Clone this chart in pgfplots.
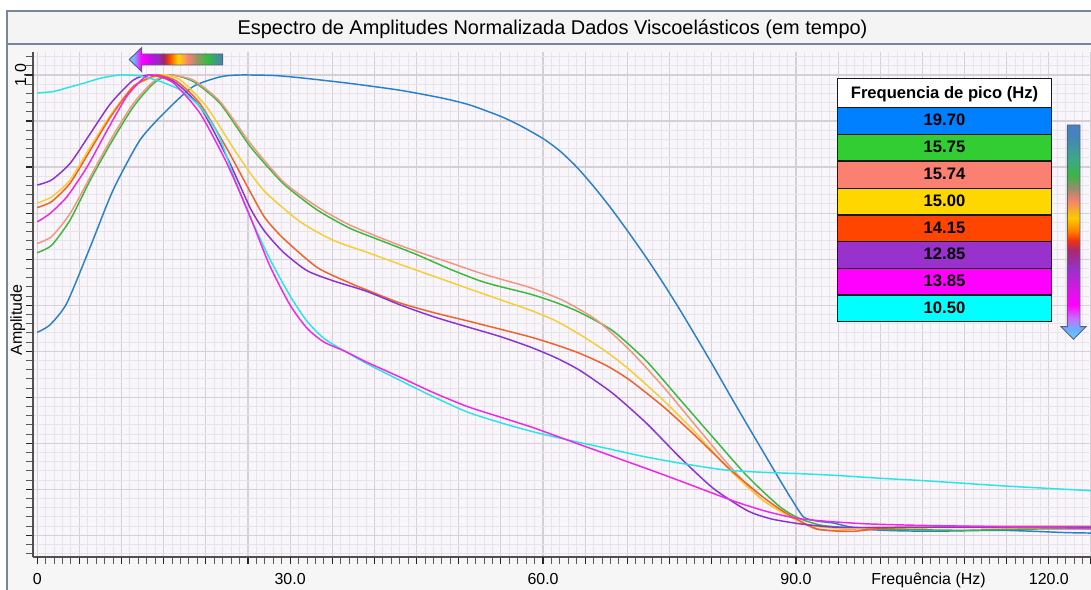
\documentclass[border=0pt]{standalone}
\usepackage{fontspec}
\setmainfont{Liberation Sans}
\usepackage{pgfplots}
\pgfplotsset{compat=1.18}

% frame and grid colours
\definecolor{panelbg}{RGB}{246,246,247}
\definecolor{titlebg}{RGB}{244,244,245}
\definecolor{plotbg}{RGB}{248,246,250}
\definecolor{gridminor}{RGB}{232,228,234}
\definecolor{gridmajor}{RGB}{212,208,214}
\definecolor{frameline}{RGB}{120,134,155}
\definecolor{axisgray}{RGB}{80,80,80}
\definecolor{arrowline}{RGB}{85,100,125}

% curve colours
\definecolor{cBlue}{RGB}{40,128,205}
\definecolor{cGreen}{RGB}{60,185,60}
\definecolor{cSalmon}{RGB}{240,150,130}
\definecolor{cGold}{RGB}{248,205,50}
\definecolor{cOrange}{RGB}{245,95,40}
\definecolor{cPurple}{RGB}{140,50,210}
\definecolor{cMagenta}{RGB}{240,40,230}
\definecolor{cCyan}{RGB}{40,230,230}

% table fills
\definecolor{lBlue}{RGB}{0,128,255}
\definecolor{lGreen}{RGB}{50,205,50}
\definecolor{lSalmon}{RGB}{250,128,114}
\definecolor{lGold}{RGB}{255,215,0}
\definecolor{lOrange}{RGB}{255,69,0}
\definecolor{lPurple}{RGB}{153,50,204}
\definecolor{lMagenta}{RGB}{255,0,255}
\definecolor{lCyan}{RGB}{0,255,255}

% rainbow gradients for the two arrows
\pgfdeclarehorizontalshading{hrainbow}{100bp}{%
  rgb(0bp)=(0.431,0.745,1); rgb(25bp)=(0.431,0.745,1); rgb(27.1bp)=(0.431,0.745,1);
  rgb(31.4bp)=(1,0,1); rgb(36.2bp)=(0.784,0.039,0.902); rgb(40.4bp)=(0.588,0.157,0.784);
  rgb(43.6bp)=(0.627,0.157,0.353); rgb(46.3bp)=(1,0.271,0); rgb(51.1bp)=(1,0.843,0);
  rgb(56.4bp)=(0.98,0.502,0.447); rgb(61.2bp)=(0.588,0.588,0.392); rgb(67bp)=(0.196,0.745,0.235);
  rgb(74.5bp)=(0.275,0.51,0.706); rgb(100bp)=(0.275,0.51,0.706)}
\pgfdeclareverticalshading{vrainbow}{100bp}{%
  rgb(0bp)=(0.47,0.784,1); rgb(25bp)=(0.47,0.784,1); rgb(27.1bp)=(0.392,0.706,1);
  rgb(29.9bp)=(0.784,0.431,1); rgb(33bp)=(1,0,1); rgb(36.4bp)=(0.863,0.078,0.902);
  rgb(41.6bp)=(0.588,0.196,0.784); rgb(45.8bp)=(0.667,0.157,0.431); rgb(48.1bp)=(0.941,0.196,0.078);
  rgb(50bp)=(1,0.471,0); rgb(53.3bp)=(0.98,0.804,0); rgb(57.5bp)=(0.941,0.51,0.431);
  rgb(60.3bp)=(0.588,0.549,0.431); rgb(63.3bp)=(0.235,0.706,0.275); rgb(66.8bp)=(0.235,0.667,0.51);
  rgb(72.7bp)=(0.275,0.51,0.745); rgb(100bp)=(0.275,0.51,0.745)}

% normalised amplitude spectra, one table per record
\pgfplotstableread{
f A
0 0.441
1.5 0.457
3.5 0.504
6.3 0.627
9.0 0.750
12.2 0.859
15.4 0.924
18.5 0.975
21.7 0.996
24.0 1.000
28.0 0.999
31.2 0.994
37.0 0.982
43.0 0.967
48.0 0.950
51.3 0.935
55.0 0.910
57.3 0.890
60.0 0.862
62.0 0.835
64.0 0.800
66.0 0.758
68.0 0.712
70.0 0.662
72.0 0.610
74.0 0.555
76.0 0.497
78.0 0.436
80.0 0.374
82.0 0.310
84.0 0.247
86.0 0.185
88.0 0.123
89.5 0.078
90.9 0.040
92.5 0.031
94.4 0.027
96.0 0.020
98.4 0.013
102.0 0.010
106.3 0.009
110.0 0.010
114.2 0.011
118.0 0.009
122.0 0.006
125.0 0.005
}\specA

\pgfplotstableread{
f A
0 0.614
1.7 0.630
3.9 0.685
6.3 0.772
8.7 0.851
11.4 0.931
13.8 0.982
15.8 1.000
18.5 0.986
21.7 0.938
25.3 0.844
29.2 0.764
33.2 0.707
37.1 0.667
41.1 0.638
45.0 0.610
49.0 0.578
52.5 0.553
55.0 0.540
58.5 0.524
61.5 0.506
64.4 0.484
68.3 0.444
72.3 0.378
76.2 0.296
80.2 0.212
84.2 0.129
88.1 0.062
90.5 0.036
93.0 0.022
96.0 0.017
100.0 0.013
105.0 0.012
110.0 0.011
115.0 0.013
120.0 0.014
125.0 0.014
}\specB

\pgfplotstableread{
f A
0 0.634
1.7 0.649
3.9 0.699
6.3 0.779
8.7 0.859
11.4 0.938
13.8 0.986
15.6 1.000
18.5 0.989
21.7 0.942
25.3 0.851
29.2 0.768
33.2 0.714
37.1 0.674
43.0 0.630
49.0 0.592
52.5 0.570
54.9 0.557
58.5 0.538
62.4 0.510
66.4 0.467
70.3 0.402
74.3 0.322
78.2 0.236
82.2 0.149
86.1 0.076
90.5 0.030
92.5 0.013
95.0 0.011
98.0 0.015
102.0 0.018
110.0 0.020
125.0 0.020
}\specC

\pgfplotstableread{
f A
0 0.722
1.7 0.735
3.9 0.772
6.3 0.844
8.7 0.913
11.4 0.975
14.2 0.998
15.0 1.000
17.0 0.989
20.1 0.931
23.3 0.840
25.3 0.786
27.2 0.743
31.2 0.681
35.1 0.641
39.1 0.615
43.0 0.589
47.0 0.563
51.0 0.537
54.9 0.512
58.5 0.489
61.5 0.466
64.4 0.436
67.5 0.399
70.3 0.359
74.3 0.293
78.2 0.221
82.2 0.141
86.1 0.076
90.5 0.029
93.0 0.018
96.0 0.015
100.0 0.018
110.0 0.018
125.0 0.016
}\specD

\pgfplotstableread{
f A
0 0.712
1.7 0.725
3.9 0.765
6.3 0.837
8.7 0.909
11.4 0.975
13.8 0.998
14.5 1.000
16.6 0.986
19.3 0.938
22.5 0.840
25.3 0.745
27.0 0.690
29.2 0.645
33.2 0.582
37.1 0.548
39.1 0.533
43.0 0.505
47.0 0.484
51.0 0.466
54.9 0.448
58.5 0.431
61.5 0.414
64.4 0.395
67.5 0.369
70.3 0.337
74.3 0.279
78.2 0.214
82.2 0.143
86.1 0.083
88.5 0.052
90.5 0.031
92.5 0.014
95.0 0.009
97.0 0.009
100.3 0.015
105.0 0.017
115.0 0.017
125.0 0.017
}\specE

\pgfplotstableread{
f A
0 0.761
1.7 0.772
3.9 0.808
6.3 0.873
8.7 0.938
11.4 0.989
13.4 1.000
16.2 0.986
19.3 0.931
22.5 0.822
25.3 0.710
27.0 0.660
29.2 0.615
32.0 0.575
35.1 0.553
39.1 0.530
43.0 0.501
47.0 0.475
51.0 0.453
54.9 0.432
58.5 0.409
61.5 0.386
64.4 0.358
68.3 0.308
72.3 0.243
76.2 0.170
80.2 0.102
84.2 0.054
87.0 0.036
90.5 0.025
94.4 0.018
100.0 0.017
110.0 0.018
125.0 0.018
}\specF

\pgfplotstableread{
f A
0 0.681
1.5 0.699
3.5 0.735
5.9 0.800
8.3 0.880
10.6 0.953
12.6 0.993
13.8 1.000
16.2 0.982
19.3 0.917
22.5 0.808
25.3 0.690
27.6 0.585
30.0 0.500
32.0 0.450
34.0 0.420
36.5 0.400
39.0 0.377
43.0 0.344
47.0 0.310
51.0 0.280
54.9 0.257
58.5 0.236
62.0 0.213
64.4 0.197
67.0 0.180
70.0 0.160
72.3 0.145
76.0 0.120
80.2 0.091
83.0 0.072
86.1 0.054
88.5 0.043
90.5 0.036
94.0 0.030
98.4 0.025
104.0 0.022
110.2 0.020
116.0 0.018
125.0 0.015
}\specG

\pgfplotstableread{
f A
0 0.961
1.9 0.964
3.5 0.972
5.5 0.982
7.5 0.993
9.8 1.000
12.2 0.998
14.6 0.986
17.0 0.967
19.3 0.931
21.5 0.870
23.3 0.780
25.3 0.690
27.6 0.600
30.0 0.520
32.0 0.465
34.0 0.428
36.3 0.402
39.1 0.373
43.0 0.337
47.0 0.301
51.0 0.268
54.9 0.245
58.0 0.229
60.4 0.218
64.0 0.203
68.3 0.186
72.0 0.171
76.2 0.157
80.0 0.146
82.2 0.141
86.0 0.137
90.5 0.134
95.0 0.130
100.0 0.124
105.0 0.119
110.0 0.113
115.0 0.107
120.0 0.102
125.0 0.097
}\specH

\begin{document}
\begin{tikzpicture}
\useasboundingbox (0,0) rectangle (818.25bp,442.5bp);
\fill[white] (0,0) rectangle (818.25bp,442.5bp);
\fill[panelbg] (5.25bp,-5bp) rectangle (830bp,434.25bp);
\fill[titlebg] (5.25bp,409.5bp) rectangle (830bp,434.25bp);
\draw[frameline, line width=0.9bp] (830bp,434.25bp) -- (5.25bp,434.25bp) -- (5.25bp,-5bp);
\draw[frameline, line width=0.9bp] (5.25bp,409.5bp) -- (830bp,409.5bp);
\node[anchor=base, font=\fontsize{15}{18}\selectfont, inner sep=0pt] at (414.4bp,416.25bp)
  {Espectro de Amplitudes Normalizada Dados Viscoelásticos (em tempo)};

\begin{axis}[
  at={(24.75bp,24.75bp)}, anchor=south west,
  scale only axis, width=793.5bp, height=378.75bp,
  xmin=-0.5, xmax=125, ymin=-0.047, ymax=1.05,
  axis lines=left, axis line style={-, draw=axisgray, line width=0.8bp},
  axis background/.style={fill=plotbg},
  xtick={0,5,...,125}, minor x tick num=4, xticklabels={},
  ytick={0,0.1,0.2,0.3,0.4,0.5,0.6,0.7,0.8,0.9,1.0},
  minor ytick={-0.04,-0.02,0.02,0.04,0.06,0.08,0.12,0.14,0.16,0.18,0.22,0.24,0.26,0.28,
    0.32,0.34,0.36,0.38,0.42,0.44,0.46,0.48,0.52,0.54,0.56,0.58,0.62,0.64,0.66,0.68,
    0.72,0.74,0.76,0.78,0.82,0.84,0.86,0.88,0.92,0.94,0.96,0.98,1.02,1.04},
  yticklabels={},
  extra x ticks={0,30,60,90,120}, extra x tick labels={0,30.0,60.0,90.0,120.0},
  extra x tick style={grid=none},
  extra y ticks={1}, extra y tick labels={1.0},
  extra y tick style={grid=none},
  grid=both,
  minor grid style={draw=gridminor, line width=0.7bp},
  major grid style={draw=gridmajor, line width=0.9bp},
  tick align=outside, major tick length=5.25bp, minor tick length=5bp,
  major tick style={draw=black!85, line width=0.9bp},
  minor tick style={draw=black!65, line width=0.7bp},
  tick label style={font=\fontsize{12}{14}\selectfont},
  xticklabel style={anchor=base, yshift=-15.5bp},
  yticklabel style={rotate=90, anchor=base},
  xlabel={Frequência (Hz)},
  xlabel style={at={(axis description cs:0.8464,-0.0535)}, anchor=base, font=\fontsize{12}{14}\selectfont},
  ylabel={Amplitude},
  ylabel style={at={(axis description cs:-0.0104,0.469)}, anchor=base, font=\fontsize{12}{14}\selectfont},
  every axis plot/.append style={line width=1.1bp, smooth, tension=0.4, no markers},
]
\addplot[cBlue] table[x=f, y=A] {\specA};
\addplot[cGreen] table[x=f, y=A] {\specB};
\addplot[cSalmon] table[x=f, y=A] {\specC};
\addplot[cGold] table[x=f, y=A] {\specD};
\addplot[cOrange] table[x=f, y=A] {\specE};
\addplot[cPurple] table[x=f, y=A] {\specF};
\addplot[cCyan] table[x=f, y=A] {\specH};
\addplot[cMagenta] table[x=f, y=A] {\specG};
\end{axis}

% peak-frequency table and gradient arrows, laid out in pixel units from the top-left corner
\begin{scope}[shift={(0bp,442.5bp)}, x=0.75bp, y=-0.75bp]
  \shade[shading=hrainbow] (129.3,59.5) -- (141.7,47.5) -- (141.7,54) -- (222.7,54)
    -- (222.7,65) -- (141.7,65) -- (141.7,71.7) -- cycle;
  \draw[arrowline, line width=0.7bp] (129.3,59.5) -- (141.7,47.5) -- (141.7,54) -- (222.7,54)
    -- (222.7,65) -- (141.7,65) -- (141.7,71.7) -- cycle;
  \shade[shading=vrainbow] (1067.3,125) -- (1080,125) -- (1080,326.7) -- (1086,326.7)
    -- (1073.5,339.3) -- (1061,326.7) -- (1067.3,326.7) -- cycle;
  \draw[arrowline, line width=0.7bp] (1067.3,125) -- (1080,125) -- (1080,326.7) -- (1086,326.7)
    -- (1073.5,339.3) -- (1061,326.7) -- (1067.3,326.7) -- cycle;

  \fill[white]    (837.3,78.3)  rectangle (1051.7,107.7);
  \fill[lBlue]    (837.3,107.7) rectangle (1051.7,134.3);
  \fill[lGreen]   (837.3,134.3) rectangle (1051.7,161.0);
  \fill[lSalmon]  (837.3,161.0) rectangle (1051.7,188.3);
  \fill[lGold]    (837.3,188.3) rectangle (1051.7,215.0);
  \fill[lOrange]  (837.3,215.0) rectangle (1051.7,241.7);
  \fill[lPurple]  (837.3,241.7) rectangle (1051.7,268.3);
  \fill[lMagenta] (837.3,268.3) rectangle (1051.7,295.0);
  \fill[lCyan]    (837.3,295.0) rectangle (1051.7,321.7);
  \draw[black!90, line width=0.9bp] (837.3,78.3) rectangle (1051.7,321.7);
  \foreach \yy in {107.7,134.3,161.0,188.3,215.0,241.7,268.3,295.0}
    \draw[black!90, line width=0.9bp] (837.3,\yy) -- (1051.7,\yy);
  \begin{scope}[every node/.style={anchor=base, inner sep=0pt, font=\fontsize{12.5}{15}\selectfont\bfseries}]
    \node at (944.5,98.3)  {Frequencia de pico (Hz)};
    \node at (944.5,126.0) {19.70};
    \node at (944.5,152.7) {15.75};
    \node at (944.5,179.9) {15.74};
    \node at (944.5,206.6) {15.00};
    \node at (944.5,233.3) {14.15};
    \node at (944.5,260.0) {12.85};
    \node at (944.5,286.6) {13.85};
    \node at (944.5,313.3) {10.50};
  \end{scope}
\end{scope}
\end{tikzpicture}
\end{document}
